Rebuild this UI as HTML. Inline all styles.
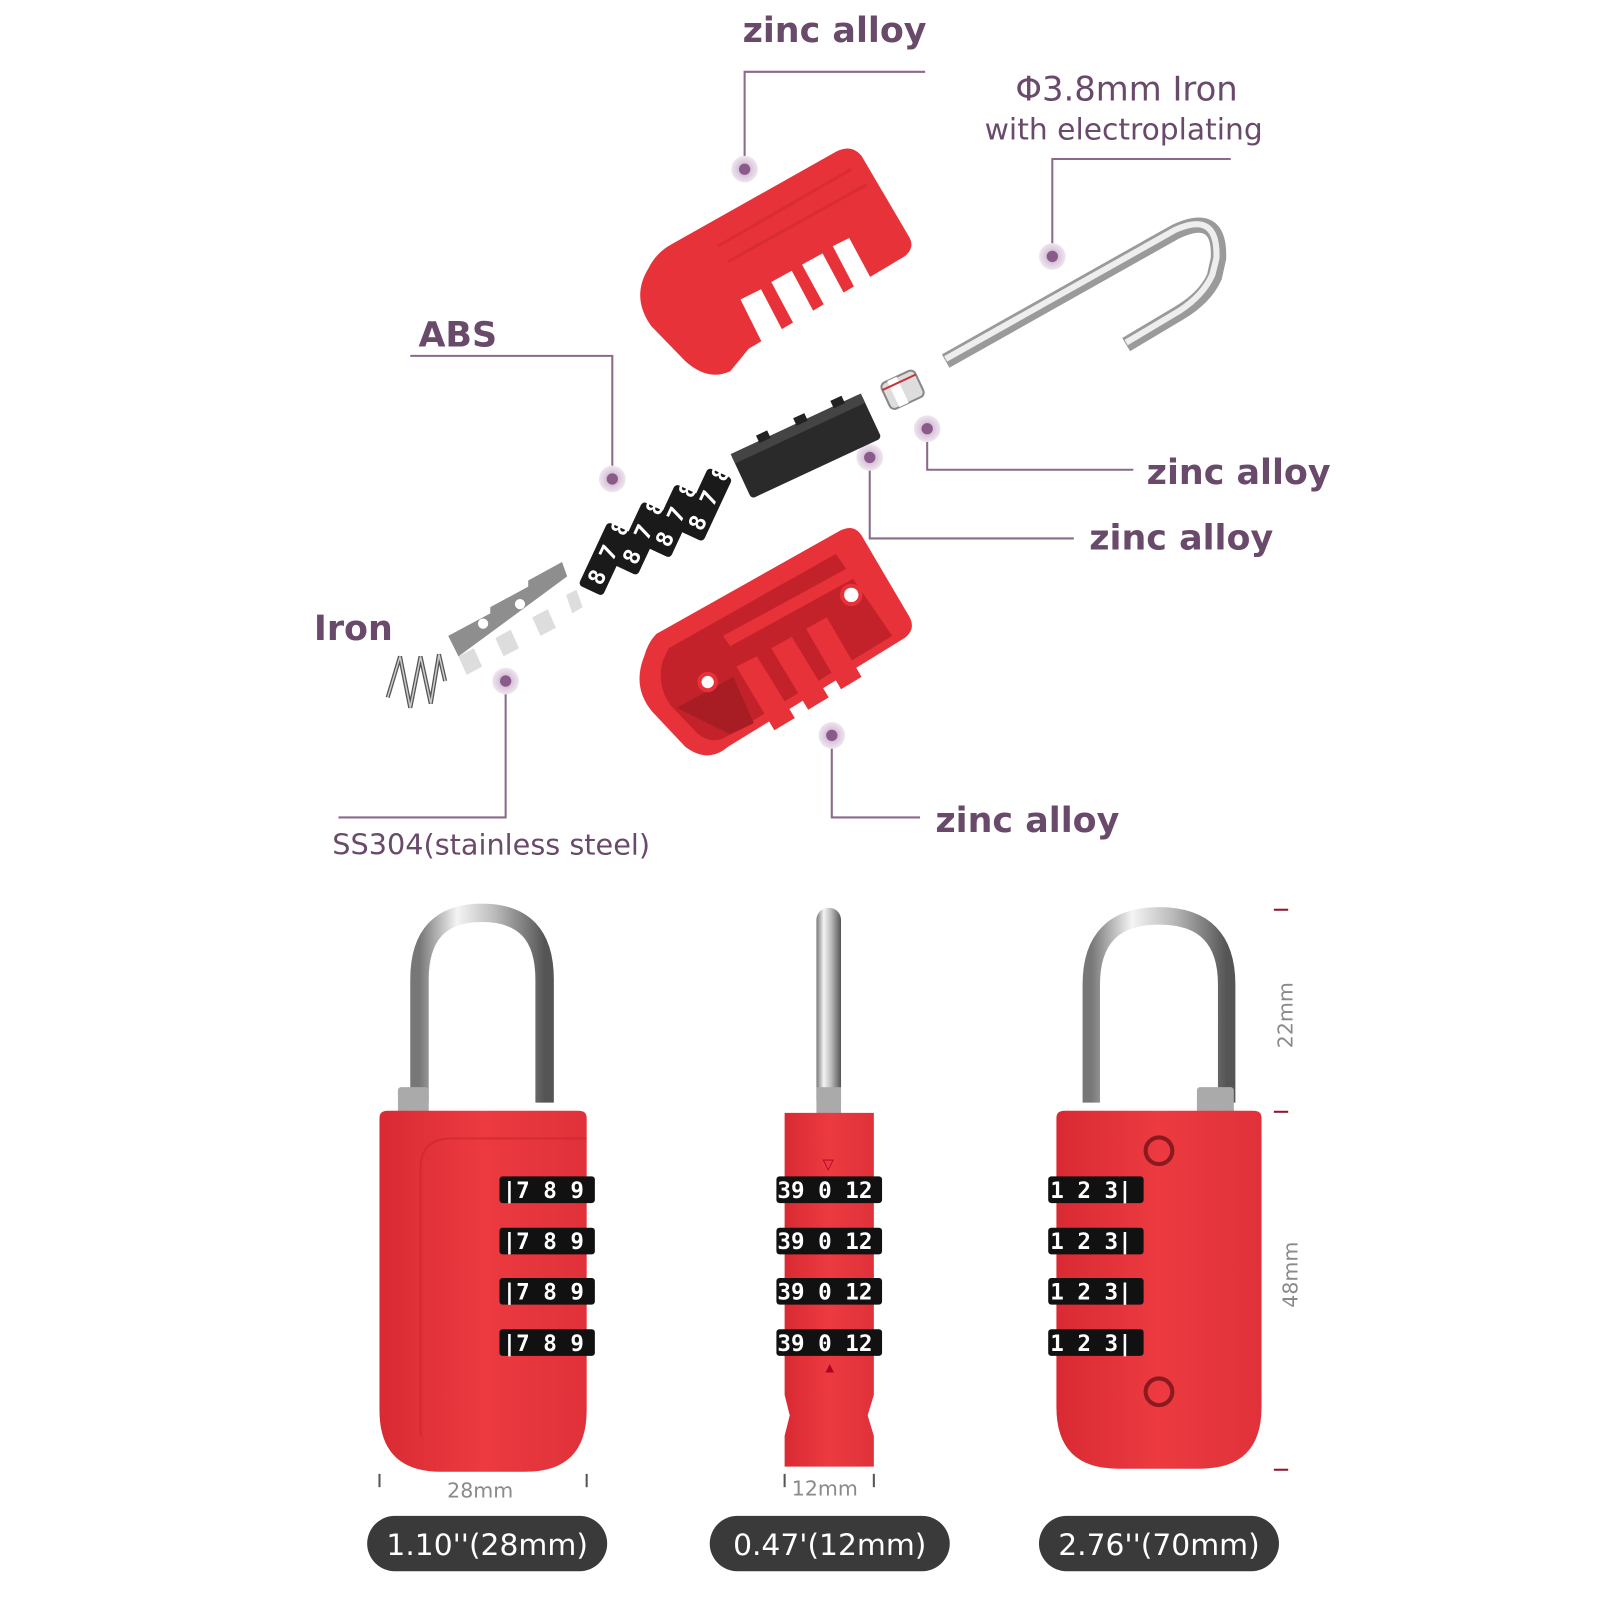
<!DOCTYPE html>
<html><head><meta charset="utf-8"><style>
html,body{margin:0;padding:0;background:#fff;width:1600px;height:1600px;overflow:hidden}
svg{display:block}
.lbl{font-family:"DejaVu Sans","Liberation Sans",sans-serif;fill:#6a4a6a}
.dim{font-family:"DejaVu Sans","Liberation Sans",sans-serif;fill:#8a8a8a;font-size:20px}
.pill{font-family:"DejaVu Sans","Liberation Sans",sans-serif;fill:#fff;font-size:29px}
.ln{stroke:#8a6a8a;stroke-width:2;fill:none}
.wd{font-family:"DejaVu Sans Mono","Liberation Mono",monospace;font-weight:bold;fill:#fff;font-size:22px}
</style></head><body>
<svg width="1600" height="1600" viewBox="0 0 1560 1560" xmlns="http://www.w3.org/2000/svg">
<defs>
<radialGradient id="dot"><stop offset="0.4" stop-color="#8a5a8a"/><stop offset="0.45" stop-color="#d8c4d8"/><stop offset="1" stop-color="#efe6ef"/></radialGradient>
<linearGradient id="steel" x1="0" x2="1"><stop offset="0" stop-color="#777"/><stop offset="0.3" stop-color="#f4f4f4"/><stop offset="0.6" stop-color="#bbb"/><stop offset="1" stop-color="#555"/></linearGradient>
<linearGradient id="redb" x1="0" x2="1"><stop offset="0" stop-color="#d92a33"/><stop offset="0.5" stop-color="#ec3a40"/><stop offset="1" stop-color="#e0313a"/></linearGradient>
</defs>

<text class="lbl" x="724" y="41" font-size="34" font-weight="bold">zinc alloy</text>
<polyline class="ln" points="902,70 726,70 726,160"/>
<circle cx="726" cy="165" r="13" fill="url(#dot)"/>

<text class="lbl" x="990" y="98" font-size="33">Φ3.8mm Iron</text>
<text class="lbl" x="960" y="136" font-size="29">with electroplating</text>
<polyline class="ln" points="1200,155 1026,155 1026,245"/>
<circle cx="1026" cy="250" r="13" fill="url(#dot)"/>

<text class="lbl" x="408" y="338" font-size="34" font-weight="bold">ABS</text>
<polyline class="ln" points="400,347 597,347 597,462"/>
<circle cx="597" cy="467" r="13" fill="url(#dot)"/>

<text class="lbl" x="1118" y="472" font-size="34" font-weight="bold">zinc alloy</text>
<polyline class="ln" points="904,422 904,458 1105,458"/>
<circle cx="904" cy="418" r="13" fill="url(#dot)"/>

<text class="lbl" x="1062" y="536" font-size="34" font-weight="bold">zinc alloy</text>
<polyline class="ln" points="848,450 848,525 1047,525"/>
<circle cx="848" cy="446" r="13" fill="url(#dot)"/>

<text class="lbl" x="306" y="624" font-size="34" font-weight="bold">Iron</text>

<text class="lbl" x="324" y="833" font-size="28">SS304(stainless steel)</text>
<polyline class="ln" points="493,668 493,797 330,797"/>
<circle cx="493" cy="664" r="13" fill="url(#dot)"/>

<text class="lbl" x="912" y="811" font-size="34" font-weight="bold">zinc alloy</text>
<polyline class="ln" points="811,722 811,797 897,797"/>
<circle cx="811" cy="717" r="13" fill="url(#dot)"/>

<!-- top shell -->
<path d="M655,238 L815,148 Q830,140 840,152 L887,232 Q892,242 882,250 L730,340 L712,362 Q690,372 668,352 L635,318 Q615,290 632,262 Q640,246 655,238Z" fill="#e8323a"/>
<path d="M700,240 L830,165 M710,255 L845,180" stroke="#c92530" stroke-width="3" fill="none" opacity=".5"/>
<g fill="#fff">
<path d="M722,292 L742,282 L765,326 L745,338Z"/>
<path d="M752,275 L772,264 L795,307 L775,318Z"/>
<path d="M782,258 L802,247 L825,290 L805,300Z"/>
<path d="M812,240 L828,232 L850,273 L834,282Z"/>
</g>

<!-- shackle exploded -->
<path d="M922,352 L1146,226 Q1190,205 1188,252 L1184,270 Q1175,290 1150,305 L1098,336" stroke="#9a9a9a" stroke-width="15" fill="none"/>
<path d="M922,350 L1146,224 Q1188,205 1186,252 L1182,268 Q1173,288 1150,303 L1098,334" stroke="#eee" stroke-width="6" fill="none"/>

<g transform="translate(880,380) rotate(-25)">
<rect x="-18" y="-14" width="36" height="28" rx="5" fill="#ddd" stroke="#888" stroke-width="2"/>
<rect x="-10" y="-14" width="10" height="28" fill="#fff"/>
<line x1="-18" y1="-8" x2="18" y2="-8" stroke="#c33" stroke-width="2"/>
</g>

<g transform="translate(786,435) rotate(-25)">
<rect x="-70" y="-24" width="140" height="48" rx="4" fill="#2a2a2a"/>
<rect x="-70" y="-24" width="140" height="10" fill="#444"/>
<rect x="-40" y="-30" width="12" height="8" fill="#222"/>
<rect x="0" y="-30" width="12" height="8" fill="#222"/>
<rect x="40" y="-30" width="12" height="8" fill="#222"/>
</g>

<g fill="#1a1a1a">
<g transform="translate(590,545) rotate(-65)"><rect x="-34" y="-13" width="68" height="26" rx="4"/><text class="wd" x="-26" y="8" font-size="17">8 7 8</text></g>
<g transform="translate(624,525) rotate(-65)"><rect x="-34" y="-13" width="68" height="26" rx="4"/><text class="wd" x="-26" y="8" font-size="17">8 7 8</text></g>
<g transform="translate(656,508) rotate(-65)"><rect x="-34" y="-13" width="68" height="26" rx="4"/><text class="wd" x="-26" y="8" font-size="17">8 7 8</text></g>
<g transform="translate(688,492) rotate(-65)"><rect x="-34" y="-13" width="68" height="26" rx="4"/><text class="wd" x="-26" y="8" font-size="17">8 7 8</text></g>
</g>

<path d="M437,620 L478,598 L478,592 L515,572 L515,566 L548,548 L553,562 L447,640Z" fill="#8e8e8e"/>
<circle cx="471" cy="608" r="5" fill="#fff"/><circle cx="507" cy="589" r="5" fill="#fff"/>
<g fill="#ddd"><path d="M447,640 L462,632 L470,650 L455,658Z"/><path d="M483,622 L498,614 L506,632 L491,640Z"/><path d="M519,602 L534,594 L542,612 L527,620Z"/><path d="M552,580 L562,575 L568,592 L558,598Z"/></g>

<path d="M378,680 L390,640 L400,690 L410,640 L420,686 L428,638 L434,664" stroke="#555" stroke-width="4" fill="none"/>
<path d="M378,680 L390,640 L400,690 L410,640 L420,686 L428,638 L434,664" stroke="#ccc" stroke-width="1.5" fill="none"/>

<!-- bottom shell -->
<path d="M640,618 L818,518 Q832,510 840,522 L887,602 Q893,614 882,622 L710,728 Q690,745 668,728 L636,694 Q616,670 628,640 Q632,626 640,618Z" fill="#e8323a"/>
<path d="M652,632 L815,540 L870,620 L712,716 Q695,728 680,715 L654,688 Q640,668 646,645Z" fill="#c4222b"/>
<path d="M660,690 L715,660 L735,705 L712,716Z" fill="#a81c24"/>
<g fill="#e8323a">
<path d="M718,650 L738,640 L775,700 L755,712Z"/>
<path d="M752,632 L772,621 L808,680 L788,692Z"/>
<path d="M786,613 L806,602 L840,660 L820,672Z"/>
<path d="M705,620 L830,552 L836,562 L712,630Z"/>
</g>
<circle cx="690" cy="665" r="10" fill="#e8323a"/><circle cx="690" cy="665" r="6" fill="#fff"/>
<circle cx="830" cy="580" r="11" fill="#e8323a"/><circle cx="830" cy="580" r="7" fill="#fff"/>

<!-- LOCK 1 -->
<path d="M409,1075 L409,955 Q409,890 470,890 Q531,890 531,955 L531,1075" stroke="url(#steel)" stroke-width="18" fill="none"/>
<rect x="388" y="1060" width="30" height="26" fill="#aaa" rx="3"/>
<path d="M370,1090 Q370,1083 378,1083 L564,1083 Q572,1083 572,1090 L572,1375 Q572,1435 512,1435 L430,1435 Q370,1435 370,1375Z" fill="url(#redb)"/>
<path d="M410,1400 L410,1140 Q410,1110 440,1110 L572,1110" stroke="#c9252f" stroke-width="2" fill="none" opacity=".6"/>
<g>
<rect x="487" y="1147" width="93" height="26" rx="3" fill="#111"/><text class="wd" x="490" y="1168">|7 8 9</text>
<rect x="487" y="1197" width="93" height="26" rx="3" fill="#111"/><text class="wd" x="490" y="1218">|7 8 9</text>
<rect x="487" y="1246" width="93" height="26" rx="3" fill="#111"/><text class="wd" x="490" y="1267">|7 8 9</text>
<rect x="487" y="1296" width="93" height="26" rx="3" fill="#111"/><text class="wd" x="490" y="1317">|7 8 9</text>
</g>
<line x1="370" y1="1437" x2="370" y2="1450" stroke="#555" stroke-width="2"/>
<line x1="572" y1="1437" x2="572" y2="1450" stroke="#555" stroke-width="2"/>
<text class="dim" x="436" y="1460">28mm</text>

<!-- LOCK 2 -->
<rect x="796" y="885" width="24" height="200" rx="12" fill="url(#steel)"/>
<rect x="796" y="1060" width="24" height="26" fill="#aaa"/>
<path d="M765,1085 L852,1085 L852,1360 L846,1380 L852,1400 L852,1430 L765,1430 L765,1400 L770,1380 L765,1360Z" fill="url(#redb)"/>
<text x="802" y="1140" font-size="14" fill="#a02">▽</text>
<text x="802" y="1338" font-size="14" fill="#a02">▲</text>
<g>
<rect x="757" y="1147" width="103" height="26" rx="3" fill="#111"/><text class="wd" x="758" y="1168">39 0 12</text>
<rect x="757" y="1197" width="103" height="26" rx="3" fill="#111"/><text class="wd" x="758" y="1218">39 0 12</text>
<rect x="757" y="1246" width="103" height="26" rx="3" fill="#111"/><text class="wd" x="758" y="1267">39 0 12</text>
<rect x="757" y="1296" width="103" height="26" rx="3" fill="#111"/><text class="wd" x="758" y="1317">39 0 12</text>
</g>
<line x1="765" y1="1437" x2="765" y2="1450" stroke="#555" stroke-width="2"/>
<line x1="852" y1="1437" x2="852" y2="1450" stroke="#555" stroke-width="2"/>
<text class="dim" x="772" y="1458">12mm</text>

<!-- LOCK 3 -->
<path d="M1064,1075 L1064,960 Q1064,893 1130,893 Q1196,893 1196,960 L1196,1075" stroke="url(#steel)" stroke-width="17" fill="none"/>
<rect x="1167" y="1060" width="36" height="26" fill="#aaa" rx="3"/>
<path d="M1030,1090 Q1030,1083 1038,1083 L1222,1083 Q1230,1083 1230,1090 L1230,1372 Q1230,1432 1170,1432 L1090,1432 Q1030,1432 1030,1372Z" fill="url(#redb)"/>
<circle cx="1130" cy="1122" r="13" fill="none" stroke="#8a1a20" stroke-width="4"/>
<circle cx="1130" cy="1357" r="13" fill="none" stroke="#8a1a20" stroke-width="4"/>
<g>
<rect x="1022" y="1147" width="93" height="26" rx="3" fill="#111"/><text class="wd" x="1024" y="1168">1 2 3|</text>
<rect x="1022" y="1197" width="93" height="26" rx="3" fill="#111"/><text class="wd" x="1024" y="1218">1 2 3|</text>
<rect x="1022" y="1246" width="93" height="26" rx="3" fill="#111"/><text class="wd" x="1024" y="1267">1 2 3|</text>
<rect x="1022" y="1296" width="93" height="26" rx="3" fill="#111"/><text class="wd" x="1024" y="1317">1 2 3|</text>
</g>
<g stroke="#8a1a30" stroke-width="2">
<line x1="1242" y1="887" x2="1256" y2="887"/><line x1="1242" y1="1084" x2="1256" y2="1084"/><line x1="1242" y1="1433" x2="1256" y2="1433"/>
</g>
<text class="dim" transform="translate(1260,1022) rotate(-90)">22mm</text>
<text class="dim" transform="translate(1265,1275) rotate(-90)">48mm</text>

<rect x="358" y="1478" width="234" height="54" rx="27" fill="#3a3a3a"/>
<text class="pill" x="475" y="1516" text-anchor="middle">1.10''(28mm)</text>
<rect x="692" y="1478" width="234" height="54" rx="27" fill="#3a3a3a"/>
<text class="pill" x="809" y="1516" text-anchor="middle">0.47'(12mm)</text>
<rect x="1013" y="1478" width="234" height="54" rx="27" fill="#3a3a3a"/>
<text class="pill" x="1130" y="1516" text-anchor="middle">2.76''(70mm)</text>
</svg>
</body></html>
